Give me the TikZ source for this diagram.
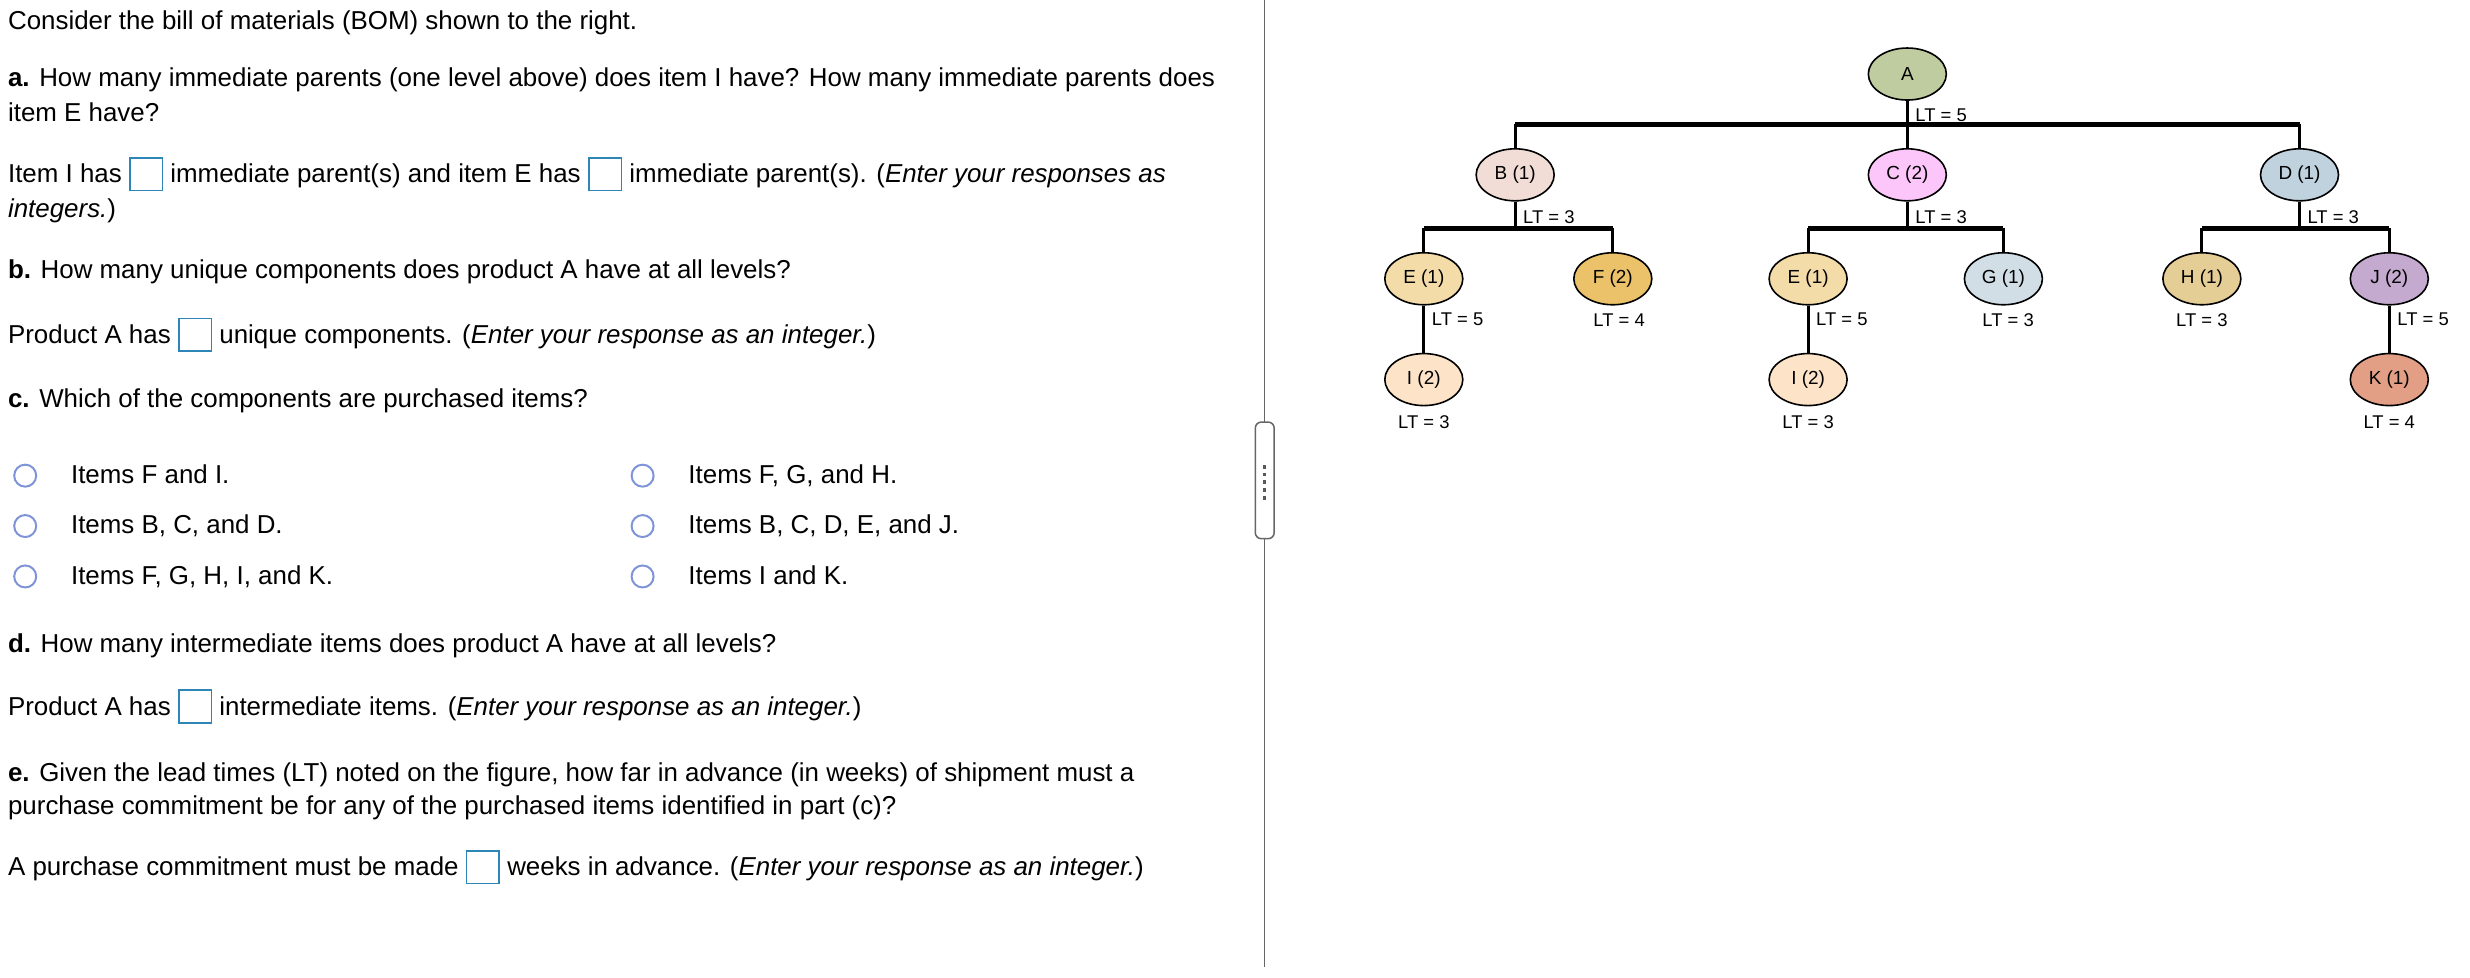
\documentclass[tikz,border=0pt]{standalone}
\usetikzlibrary{shapes.geometric}
\usepackage{fontspec}
\setmainfont{Liberation Sans}
\definecolor{boxc}{HTML}{2E86B8}
\definecolor{radc}{HTML}{7F94D8}
\definecolor{cA}{HTML}{BFCC9F}\definecolor{cB}{HTML}{F1DDD5}\definecolor{cC}{HTML}{FDC6FB}
\definecolor{cD}{HTML}{BFD2DD}\definecolor{cE}{HTML}{F4DCA9}\definecolor{cF}{HTML}{EBC269}
\definecolor{cG}{HTML}{D1DEE6}\definecolor{cH}{HTML}{E5CD96}\definecolor{cJ}{HTML}{C4AACE}
\definecolor{cK}{HTML}{E39F85}\definecolor{cI}{HTML}{FDE4C8}
\newcommand{\ansbox}{{\setlength{\fboxrule}{1.6bp}\setlength{\fboxsep}{0pt}\raisebox{-7bp}{\fcolorbox{boxc}{white}{\rule{0pt}{31bp}\hspace{31bp}}}}}
\begin{document}
\begin{tikzpicture}[x=1.575bp,y=-1.575bp,
  txt/.style={anchor=base west,inner sep=0pt,font=\fontsize{26}{31}\selectfont},
  itm/.style={ellipse,draw,line width=1.6bp,minimum width=78bp,minimum height=52bp,inner sep=0pt,font=\fontsize{19}{21}\selectfont},
  lt/.style={inner sep=0pt,font=\fontsize{18.5}{20}\selectfont},
  bar/.style={line width=5bp},
  stem/.style={line width=3bp},
  radio/.style={circle,draw=radc,line width=2bp,minimum size=22bp,inner sep=0pt}]
\useasboundingbox (0,0) rectangle (1568.25,620.95);
% left text
\node[txt] (t0) at (5,19) {Consider the bill of materials (BOM) shown to the right.};
\node[txt] (t1) at (5,55) {\textbf{a.} How many immediate parents (one level above) does item I have? How many immediate parents does};
\node[txt] (t2) at (5,77) {item E have?};
\node[txt] (t3) at (5,116) {Item I has \ansbox{} immediate parent(s) and item E has \ansbox{} immediate parent(s). (\textit{Enter your responses as}};
\node[txt] (t4) at (5,138) {\textit{integers.})};
\node[txt] (t5) at (5,177) {\textbf{b.} How many unique components does product A have at all levels?};
\node[txt] (t6) at (5,218) {Product A has \ansbox{} unique components. (\textit{Enter your response as an integer.})};
\node[txt] (t7) at (5,259) {\textbf{c.} Which of the components are purchased items?};
\node[radio] (r1) at (16,302) {};\node[txt] (o1) at (45,307) {Items F and I.};
\node[radio] (r2) at (16,334) {};\node[txt] (o2) at (45,339) {Items B, C, and D.};
\node[radio] (r3) at (16,366) {};\node[txt] (o3) at (45,371) {Items F, G, H, I, and K.};
\node[radio] (r4) at (408,302) {};\node[txt] (o4) at (437,307) {Items F, G, and H.};
\node[radio] (r5) at (408,334) {};\node[txt] (o5) at (437,339) {Items B, C, D, E, and J.};
\node[radio] (r6) at (408,366) {};\node[txt] (o6) at (437,371) {Items I and K.};
\node[txt] (t8) at (5,414) {\textbf{d.} How many intermediate items does product A have at all levels?};
\node[txt] (t9) at (5,454) {Product A has \ansbox{} intermediate items. (\textit{Enter your response as an integer.})};
\node[txt] (t10) at (5,496) {\textbf{e.} Given the lead times (LT) noted on the figure, how far in advance (in weeks) of shipment must a};
\node[txt] (t11) at (5,517) {purchase commitment be for any of the purchased items identified in part (c)?};
\node[txt] (t12) at (5,556) {A purchase commitment must be made \ansbox{} weeks in advance. (\textit{Enter your response as an integer.})};
% divider
\draw[gray!80!black,line width=1.5bp] (803,0) -- (803,268) (803,342) -- (803,614);
\draw[gray!80!black,line width=1.5bp,rounded corners=6bp,fill=white] (797,268) rectangle (809,342);
\foreach \yy in {295,300,305,310,315} \fill[gray!70!black] (802,\yy) rectangle (804,\yy+2.5);
% tree
\node[itm,fill=cA] (A) at (1211,47) {A};
\node[itm,fill=cB] (B) at (962,111) {B (1)};
\node[itm,fill=cC] (C) at (1211,111) {C (2)};
\node[itm,fill=cD] (D) at (1460,111) {D (1)};
\node[itm,fill=cE] (E1) at (904,177) {E (1)};
\node[itm,fill=cF] (F) at (1024,177) {F (2)};
\node[itm,fill=cE] (E2) at (1148,177) {E (1)};
\node[itm,fill=cG] (G) at (1272,177) {G (1)};
\node[itm,fill=cH] (H) at (1398,177) {H (1)};
\node[itm,fill=cJ] (J) at (1517,177) {J (2)};
\node[itm,fill=cI] (I1) at (904,241) {I (2)};
\node[itm,fill=cI] (I2) at (1148,241) {I (2)};
\node[itm,fill=cK] (K) at (1517,241) {K (1)};
\coordinate (bA) at (1211,79); \coordinate (bB) at (962,145);
\draw[stem] (A.south) -- (bA);
\draw[bar] (B.north|-bA) -- (D.north|-bA);
\draw[stem] (B.north|-bA) -- (B.north) (C.north|-bA) -- (C.north) (D.north|-bA) -- (D.north);
\foreach \p/\l/\r in {B/E1/F,C/E2/G,D/H/J}{
  \draw[stem] (\p.south) -- (\p.south|-bB);
  \draw[bar] (\l.north|-bB) -- (\r.north|-bB);
  \draw[stem] (\l.north|-bB) -- (\l.north) (\r.north|-bB) -- (\r.north);}
\draw[stem] (E1.south) -- (I1.north) (E2.south) -- (I2.north) (J.south) -- (K.north);
\node[lt,anchor=west] (lA) at (1216,73) {LT = 5};
\node[lt,anchor=west] (lB) at (967,138) {LT = 3};
\node[lt,anchor=west] (lC) at (1216,138) {LT = 3};
\node[lt,anchor=west] (lD) at (1465,138) {LT = 3};
\node[lt,anchor=west] (lE1) at (909,203) {LT = 5};
\node[lt] (lF) at (1028,203) {LT = 4};
\node[lt,anchor=west] (lE2) at (1153,203) {LT = 5};
\node[lt] (lG) at (1275,203) {LT = 3};
\node[lt] (lH) at (1398,203) {LT = 3};
\node[lt,anchor=west] (lJ) at (1522,203) {LT = 5};
\node[lt] (lI1) at (904,268) {LT = 3};
\node[lt] (lI2) at (1148,268) {LT = 3};
\node[lt] (lK) at (1517,268) {LT = 4};
\end{tikzpicture}
\end{document}
